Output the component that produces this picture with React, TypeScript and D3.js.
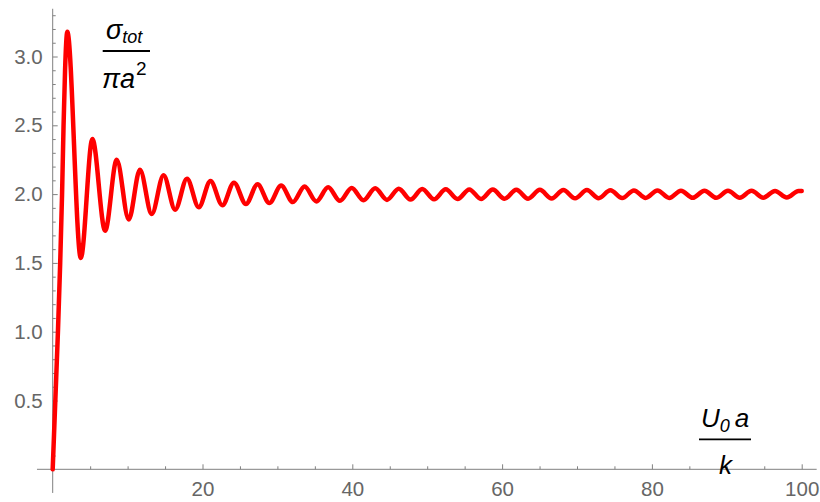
import React, { useEffect, useRef } from "react";
import * as d3 from "d3";

// steep rise from the origin to the first maximum
const riseX = [0, 0.35, 0.7, 1.0, 1.25, 1.45, 1.65];
const riseY = [0, 0.5, 1.0, 1.5, 2.0, 2.5, 2.9];

// maxima of the oscillation
const peakX = [
  1.95, 5.3, 8.55, 11.65, 14.8, 17.93, 21.07, 24.2, 27.35, 30.5, 33.63, 36.78,
  39.92, 43.06, 46.2, 49.34, 52.48, 55.62, 58.76, 61.9, 65.04, 68.18, 71.32,
  74.46, 77.6, 80.74, 83.88, 87.02, 90.16, 93.3, 96.44, 99.58,
];
const peakY = [
  3.18, 2.4, 2.25, 2.177, 2.137, 2.112, 2.095, 2.083, 2.071, 2.062, 2.055,
  2.05, 2.045, 2.042, 2.039, 2.037, 2.035, 2.034, 2.033, 2.032, 2.031, 2.03,
  2.029, 2.028, 2.027, 2.026, 2.025, 2.025, 2.024, 2.024, 2.023, 2.023,
];

// minima
const troughX = [
  3.75, 7.0, 10.15, 13.22, 16.35, 19.5, 22.65, 25.8, 28.92, 32.06, 35.2, 38.35,
  41.49, 44.63, 47.77, 50.91, 54.05, 57.19, 60.33, 63.47, 66.61, 69.75, 72.89,
  76.03, 79.17, 82.31, 85.45, 88.59, 91.73, 94.87, 98.01,
];
const troughY = [
  1.536, 1.734, 1.815, 1.855, 1.887, 1.904, 1.919, 1.928, 1.935, 1.942, 1.947,
  1.951, 1.955, 1.958, 1.96, 1.962, 1.964, 1.965, 1.966, 1.967, 1.968, 1.969,
  1.97, 1.971, 1.972, 1.972, 1.973, 1.973, 1.974, 1.974, 1.975,
];

const endX = [100];
const endY = [2.022];

const xMajor = [20, 40, 60, 80, 100];
const xMajorLabels = ["20", "40", "60", "80", "100"];
const yMajor = [0.5, 1.0, 1.5, 2.0, 2.5, 3.0];
const yMajorLabels = ["0.5", "1.0", "1.5", "2.0", "2.5", "3.0"];

const W = 820;
const H = 502;
const tickFont = "'Liberation Sans', Arial, sans-serif";
const axisColor = "#808080";
const labelColor = "#666666";

export default function App() {
  const ref = useRef<SVGGElement>(null);

  useEffect(() => {
    const svg = d3.select(ref.current);
    svg.selectAll("*").remove();

    const x = d3.scaleLinear().domain([0, 100]).range([52.7, 801.7]);
    const y = d3.scaleLinear().domain([0, 3]).range([469.3, 56.5]);

    const xMinor = d3.range(5, 100, 5).filter((v) => v % 20 !== 0);
    const yMinor = d3
      .range(1, 34)
      .filter((i) => i % 5 !== 0)
      .map((i) => i / 10);

    // axis lines
    svg
      .append("line")
      .attr("x1", x(-2.1))
      .attr("x2", x(102))
      .attr("y1", y(0))
      .attr("y2", y(0))
      .attr("stroke", axisColor)
      .attr("stroke-width", 1);
    svg
      .append("line")
      .attr("x1", x(0))
      .attr("x2", x(0))
      .attr("y1", y(-0.172))
      .attr("y2", y(3.347))
      .attr("stroke", axisColor)
      .attr("stroke-width", 1);

    // x ticks
    const gx = svg.append("g").attr("transform", `translate(0,${y(0)})`);
    gx.call(
      d3.axisBottom(x).tickValues(xMinor).tickSizeInner(-3).tickSizeOuter(0).tickFormat(() => "")
    );
    const gx2 = svg.append("g").attr("transform", `translate(0,${y(0)})`);
    gx2.call(
      d3
        .axisBottom(x)
        .tickValues(xMajor)
        .tickSizeInner(-5)
        .tickSizeOuter(0)
        .tickPadding(12)
        .tickFormat((d, i) => xMajorLabels[i])
    );

    // y ticks
    const gy = svg.append("g").attr("transform", `translate(${x(0)},0)`);
    gy.call(
      d3.axisLeft(y).tickValues(yMinor).tickSizeInner(-3).tickSizeOuter(0).tickFormat(() => "")
    );
    const gy2 = svg.append("g").attr("transform", `translate(${x(0)},0)`);
    gy2.call(
      d3
        .axisLeft(y)
        .tickValues(yMajor)
        .tickSizeInner(-5)
        .tickSizeOuter(0)
        .tickPadding(10)
        .tickFormat((d, i) => yMajorLabels[i])
    );

    svg.selectAll(".domain").remove();
    svg.selectAll(".tick line").attr("stroke", axisColor);
    svg
      .selectAll(".tick text")
      .attr("fill", labelColor)
      .attr("font-family", tickFont)
      .attr("font-size", 20.5);

    // curve
    const pts: [number, number][] = [];
    riseX.forEach((v, i) => pts.push([v, riseY[i]]));
    peakX.forEach((v, i) => pts.push([v, peakY[i]]));
    troughX.forEach((v, i) => pts.push([v, troughY[i]]));
    endX.forEach((v, i) => pts.push([v, endY[i]]));
    pts.sort((a, b) => a[0] - b[0]);

    const line = d3
      .line<[number, number]>()
      .x((d) => x(d[0]))
      .y((d) => y(d[1]))
      .curve(d3.curveMonotoneX);

    svg
      .append("path")
      .datum(pts)
      .attr("d", line)
      .attr("fill", "none")
      .attr("stroke", "#ff0000")
      .attr("stroke-width", 4.5)
      .attr("stroke-linejoin", "round")
      .attr("stroke-linecap", "round");
  }, []);

  const it = { fontFamily: tickFont, fontStyle: "italic" as const, fill: "#000" };

  return (
    <svg
      width={W}
      height={H}
      style={{ position: "absolute", left: 0, top: 0, background: "#fff" }}
    >
      <g ref={ref} />
      {/* y label: sigma_tot / (pi a^2) */}
      <text x={106} y={39} fontSize={27} style={it}>
        σ<tspan fontSize={18} dy={4}>tot</tspan>
      </text>
      <line x1={102.7} x2={150} y1={51} y2={51} stroke="#000" strokeWidth={1.8} />
      <text x={102} y={88} fontSize={27} style={it}>
        πa<tspan fontSize={19} dy={-13} dx={1} fontStyle="normal" style={{ fontStyle: "normal" }}>2</tspan>
      </text>
      {/* x label: U0 a / k */}
      <text x={701} y={427} fontSize={26} style={it}>
        U<tspan fontSize={18} dy={5}>0</tspan>
        <tspan dy={-5} dx={5}>a</tspan>
      </text>
      <line x1={699} x2={751} y1={439.3} y2={439.3} stroke="#000" strokeWidth={1.8} />
      <text x={719} y={474} fontSize={26} style={it}>
        k
      </text>
    </svg>
  );
}
